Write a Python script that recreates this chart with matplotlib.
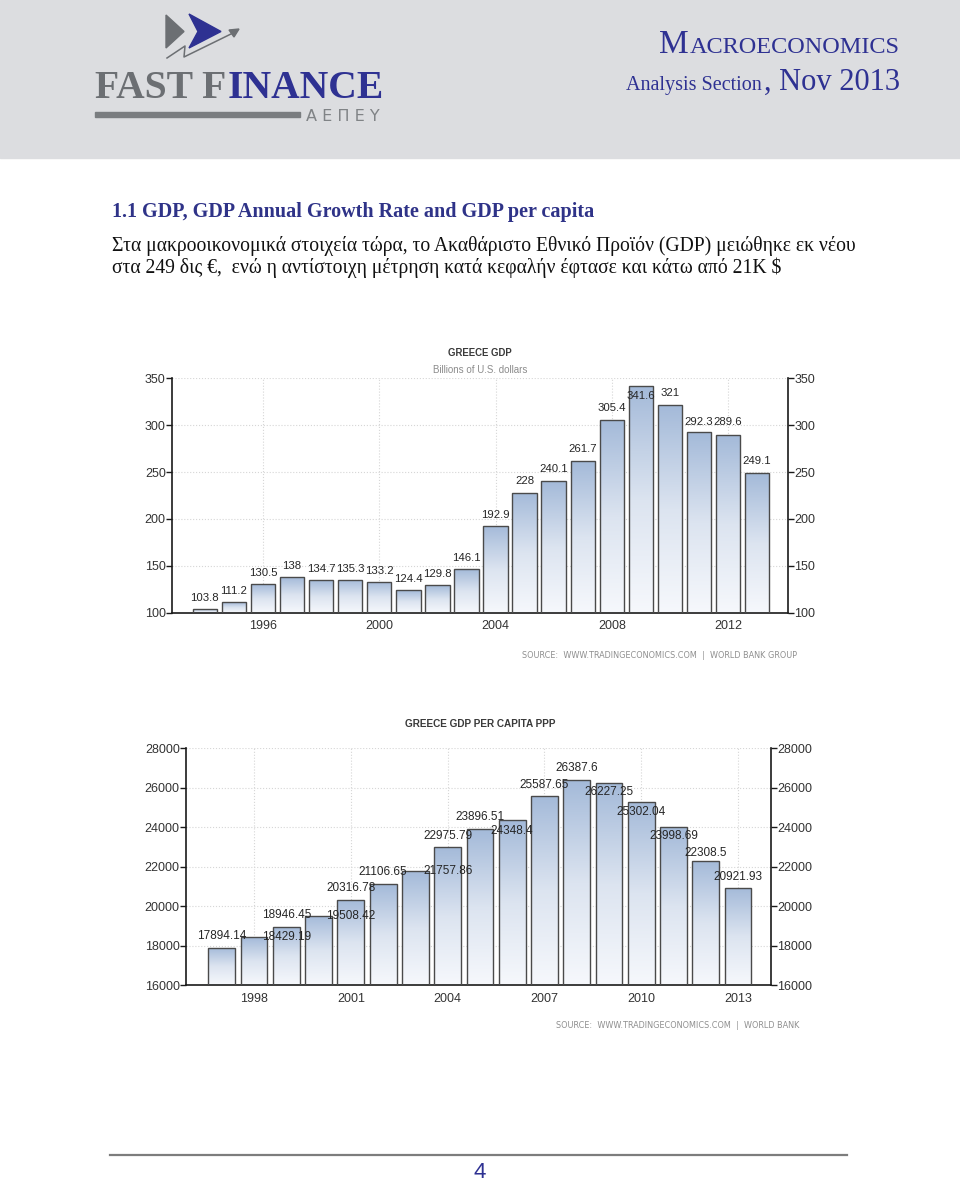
import numpy as np
import matplotlib
matplotlib.use("Agg")
import matplotlib.pyplot as plt
from matplotlib.patches import Rectangle, Polygon
from matplotlib.colors import LinearSegmentedColormap
from matplotlib import font_manager

W, H = 960, 1187

# ---- data ----
gdp_years = [1994, 1995, 1996, 1997, 1998, 1999, 2000, 2001, 2002, 2003,
             2004, 2005, 2006, 2007, 2008, 2009, 2010, 2011, 2012, 2013]
gdp_values = [103.8, 111.2, 130.5, 138, 134.7, 135.3, 133.2, 124.4, 129.8, 146.1,
              192.9, 228, 240.1, 261.7, 305.4, 341.6, 321, 292.3, 289.6, 249.1]
gdp_xticks = [1996, 2000, 2004, 2008, 2012]
gdp_yticks = [100, 150, 200, 250, 300, 350]

pc_years = [1997, 1998, 1999, 2000, 2001, 2002, 2003, 2004, 2005,
            2006, 2007, 2008, 2009, 2010, 2011, 2012, 2013]
pc_values = [17894.14, 18429.19, 18946.45, 19508.42, 20316.78, 21106.65, 21757.86,
             22975.79, 23896.51, 24348.4, 25587.65, 26387.6, 26227.25, 25302.04,
             23998.69, 22308.5, 20921.93]
pc_xticks = [1998, 2001, 2004, 2007, 2010, 2013]
pc_yticks = [16000, 18000, 20000, 22000, 24000, 26000, 28000]

# label placement (shift in years, offset in pixels) - how the source chart drew them
gdp_lab_dx = [0] * 20
gdp_lab_dy = [11, 11, 11, 11, 11, 11, 11, 11, 11, 11,
              11, 12, 12, 12, 12, -10, 12, 10, 13, 12]
pc_lab_dx = [0, 1, 0, 1, 0, 0, 1, 0, 0, 0, 0, 0, 0, 0, 0, 0, 0]
pc_lab_dy = [12, 0, 12, 0, 12, 12, 0, 11, 12, -11, 11, 12, -9, -10, -9, 8, 11]

title_txt = "1.1 GDP, GDP Annual Growth Rate and GDP per capita"
body1 = "Στα μακροοικονομικά στοιχεία τώρα, το Ακαθάριστο Εθνικό Προϊόν (GDP) μειώθηκε εκ νέου"
body2 = "στα 249 δις €,  ενώ η αντίστοιχη μέτρηση κατά κεφαλήν έφτασε και κάτω από 21Κ $"

NAVY = "#2e3192"
GRAY = "#6c6f73"

available = {f.name for f in font_manager.fontManager.ttflist}
if "Liberation Sans Narrow" in available:
    NARROW = "Liberation Sans Narrow"
elif "Liberation Sans" in available:
    NARROW = "Liberation Sans"
else:
    NARROW = "DejaVu Sans"
SERIF = "Liberation Serif" if "Liberation Serif" in available else "DejaVu Serif"
plt.rcParams["font.family"] = [NARROW, "DejaVu Sans"]

fig = plt.figure(figsize=(W / 100, H / 100), dpi=100)
page = fig.add_axes([0, 0, 1, 1])
page.set_xlim(0, W)
page.set_ylim(H, 0)
page.axis("off")
R = fig.canvas.get_renderer()


def fit_width(t, width):
    w = t.get_window_extent(renderer=R).width
    t.set_fontsize(t.get_fontsize() * width / w)
    return t


def px_rect(x0, y_top, x1, y_bot):
    return [x0 / W, 1 - y_bot / H, (x1 - x0) / W, (y_bot - y_top) / H]


# ---- header band ----
page.add_patch(Rectangle((0, 0), W, 158, color="#dcdde0", zorder=0))

# logo
page.add_patch(Polygon([(166, 15), (166, 48), (184, 31.5)], closed=True, color=GRAY))
page.add_patch(Polygon([(189, 14), (221, 31.5), (189, 48), (198, 31.5)], closed=True, color=NAVY))
page.plot([167, 185, 184, 233], [58, 46, 57, 33], color=GRAY, lw=1.1)
page.add_patch(Polygon([(239, 29), (229, 30), (234, 37)], closed=True, color=GRAY))

x = 95
for s, c in [("FAST F", GRAY), ("INANCE", NAVY)]:
    t = page.text(x, 98, s, fontsize=28.5, weight="bold", family=SERIF, color=c,
                  ha="left", va="baseline")
    x = t.get_window_extent(renderer=R).x1 + 1
page.add_patch(Rectangle((95, 112), 205, 5, color="#7a7d80"))
fit_width(page.text(306, 121, "Α Ε Π Ε Υ", fontsize=9, family="DejaVu Sans",
                    color="#808386", ha="left", va="baseline"), 74)

# right header
t_acro = page.text(900, 53, "ACROECONOMICS", fontsize=17.5, family=SERIF, color=NAVY,
                   ha="right", va="baseline")
page.text(t_acro.get_window_extent(renderer=R).x0 - 1, 53, "M", fontsize=24, family=SERIF,
          color=NAVY, ha="right", va="baseline")
t_nov = page.text(900, 90, ", Nov 2013", fontsize=22, family=SERIF, color=NAVY,
                  ha="right", va="baseline")
page.text(t_nov.get_window_extent(renderer=R).x0 - 2, 90, "Analysis Section", fontsize=14.5,
          family=SERIF, color=NAVY, ha="right", va="baseline")

# title and paragraph
fit_width(page.text(112, 217, title_txt, fontsize=13, weight="bold", family=SERIF,
                    color="#2f3388", ha="left", va="baseline"), 481)
l1 = fit_width(page.text(112, 251, body1, fontsize=13, family=SERIF, color="#111111",
                         ha="left", va="baseline"), 740)
page.text(112, 273, body2, fontsize=l1.get_fontsize(), family=SERIF, color="#111111",
          ha="left", va="baseline")

# ---- bar charts ----
bar_cmap = LinearSegmentedColormap.from_list("bar", ["#f6f8fc", "#dce4f0", "#a4bad9"])
grad = np.linspace(0, 1, 128).reshape(-1, 1)


def bar_chart(rect, years, values, xlim, ylim, xticks, yticks, dx, dy, width, labsize):
    ax = fig.add_axes(rect)
    base = ylim[0]
    bars = ax.bar(years, [v - base for v in values], bottom=base, width=width,
                  facecolor="none", edgecolor="#4a4a4a", linewidth=1.0, zorder=3)
    for b in bars:
        x0 = b.get_x()
        top = b.get_y() + b.get_height()
        im = ax.imshow(grad, extent=(x0, x0 + b.get_width(), base, top), origin="lower",
                       cmap=bar_cmap, aspect="auto", zorder=2, interpolation="bilinear")
        im.set_clip_path(b)
    for yr, v, sx, sy in zip(years, values, dx, dy):
        ax.annotate(str(v), xy=(yr + sx, v), xytext=(0, sy), textcoords="offset pixels",
                    ha="center", va="center", fontsize=labsize, color="#262626", zorder=5)
    ax.set_xlim(xlim)
    ax.set_ylim(ylim)
    ax.set_xticks(xticks, labels=[str(t) for t in xticks])
    ax.set_yticks(yticks, labels=[str(t) for t in yticks])
    ax.grid(True, color="#d6d6d6", linestyle=":", linewidth=0.8)
    ax.set_axisbelow(True)
    ax.spines["top"].set_visible(False)
    for side in ("left", "right", "bottom"):
        ax.spines[side].set_color("#1a1a1a")
        ax.spines[side].set_linewidth(1.2)
    ax.tick_params(axis="y", left=True, right=True, labelleft=True, labelright=True,
                   direction="out", length=4, width=1, color="#1a1a1a", pad=0.5,
                   labelsize=9, labelcolor="#333333")
    ax.tick_params(axis="x", length=0, pad=5.5, labelsize=9, labelcolor="#333333")
    return ax


bar_chart(px_rect(172, 378.3, 788, 612.7), gdp_years, gdp_values, (1992.87, 2014.06),
          (100, 350), gdp_xticks, gdp_yticks, gdp_lab_dx, gdp_lab_dy, 0.84, 8.2)
bar_chart(px_rect(186, 748.4, 771, 985), pc_years, pc_values, (1995.89, 2014.02),
          (16000, 28000), pc_xticks, pc_yticks, pc_lab_dx, pc_lab_dy, 0.83, 8.5)

# chart titles and sources
fit_width(page.text(480, 353, "GREECE GDP", fontsize=9, weight="bold", color="#3a3a3a",
                    ha="center", va="center"), 64)
fit_width(page.text(480, 370, "Billions of U.S. dollars", fontsize=8, color="#8c8c8c",
                    ha="center", va="center"), 95)
fit_width(page.text(480, 724, "GREECE GDP PER CAPITA PPP", fontsize=9, weight="bold",
                    color="#3a3a3a", ha="center", va="center"), 151)
fit_width(page.text(522, 655, "SOURCE:  WWW.TRADINGECONOMICS.COM  |  WORLD BANK GROUP",
                    fontsize=6, family="DejaVu Sans", color="#8f8f8f", ha="left", va="center"), 280)
fit_width(page.text(556, 1025, "SOURCE:  WWW.TRADINGECONOMICS.COM  |  WORLD BANK",
                    fontsize=6, family="DejaVu Sans", color="#8f8f8f", ha="left", va="center"), 246)

# footer
page.plot([110, 847], [1155, 1155], color="#7d7d7d", lw=1.6)
page.text(480, 1173, "4", fontsize=16, color=NAVY, ha="center", va="center")

fig.savefig("out.png", dpi=100)
